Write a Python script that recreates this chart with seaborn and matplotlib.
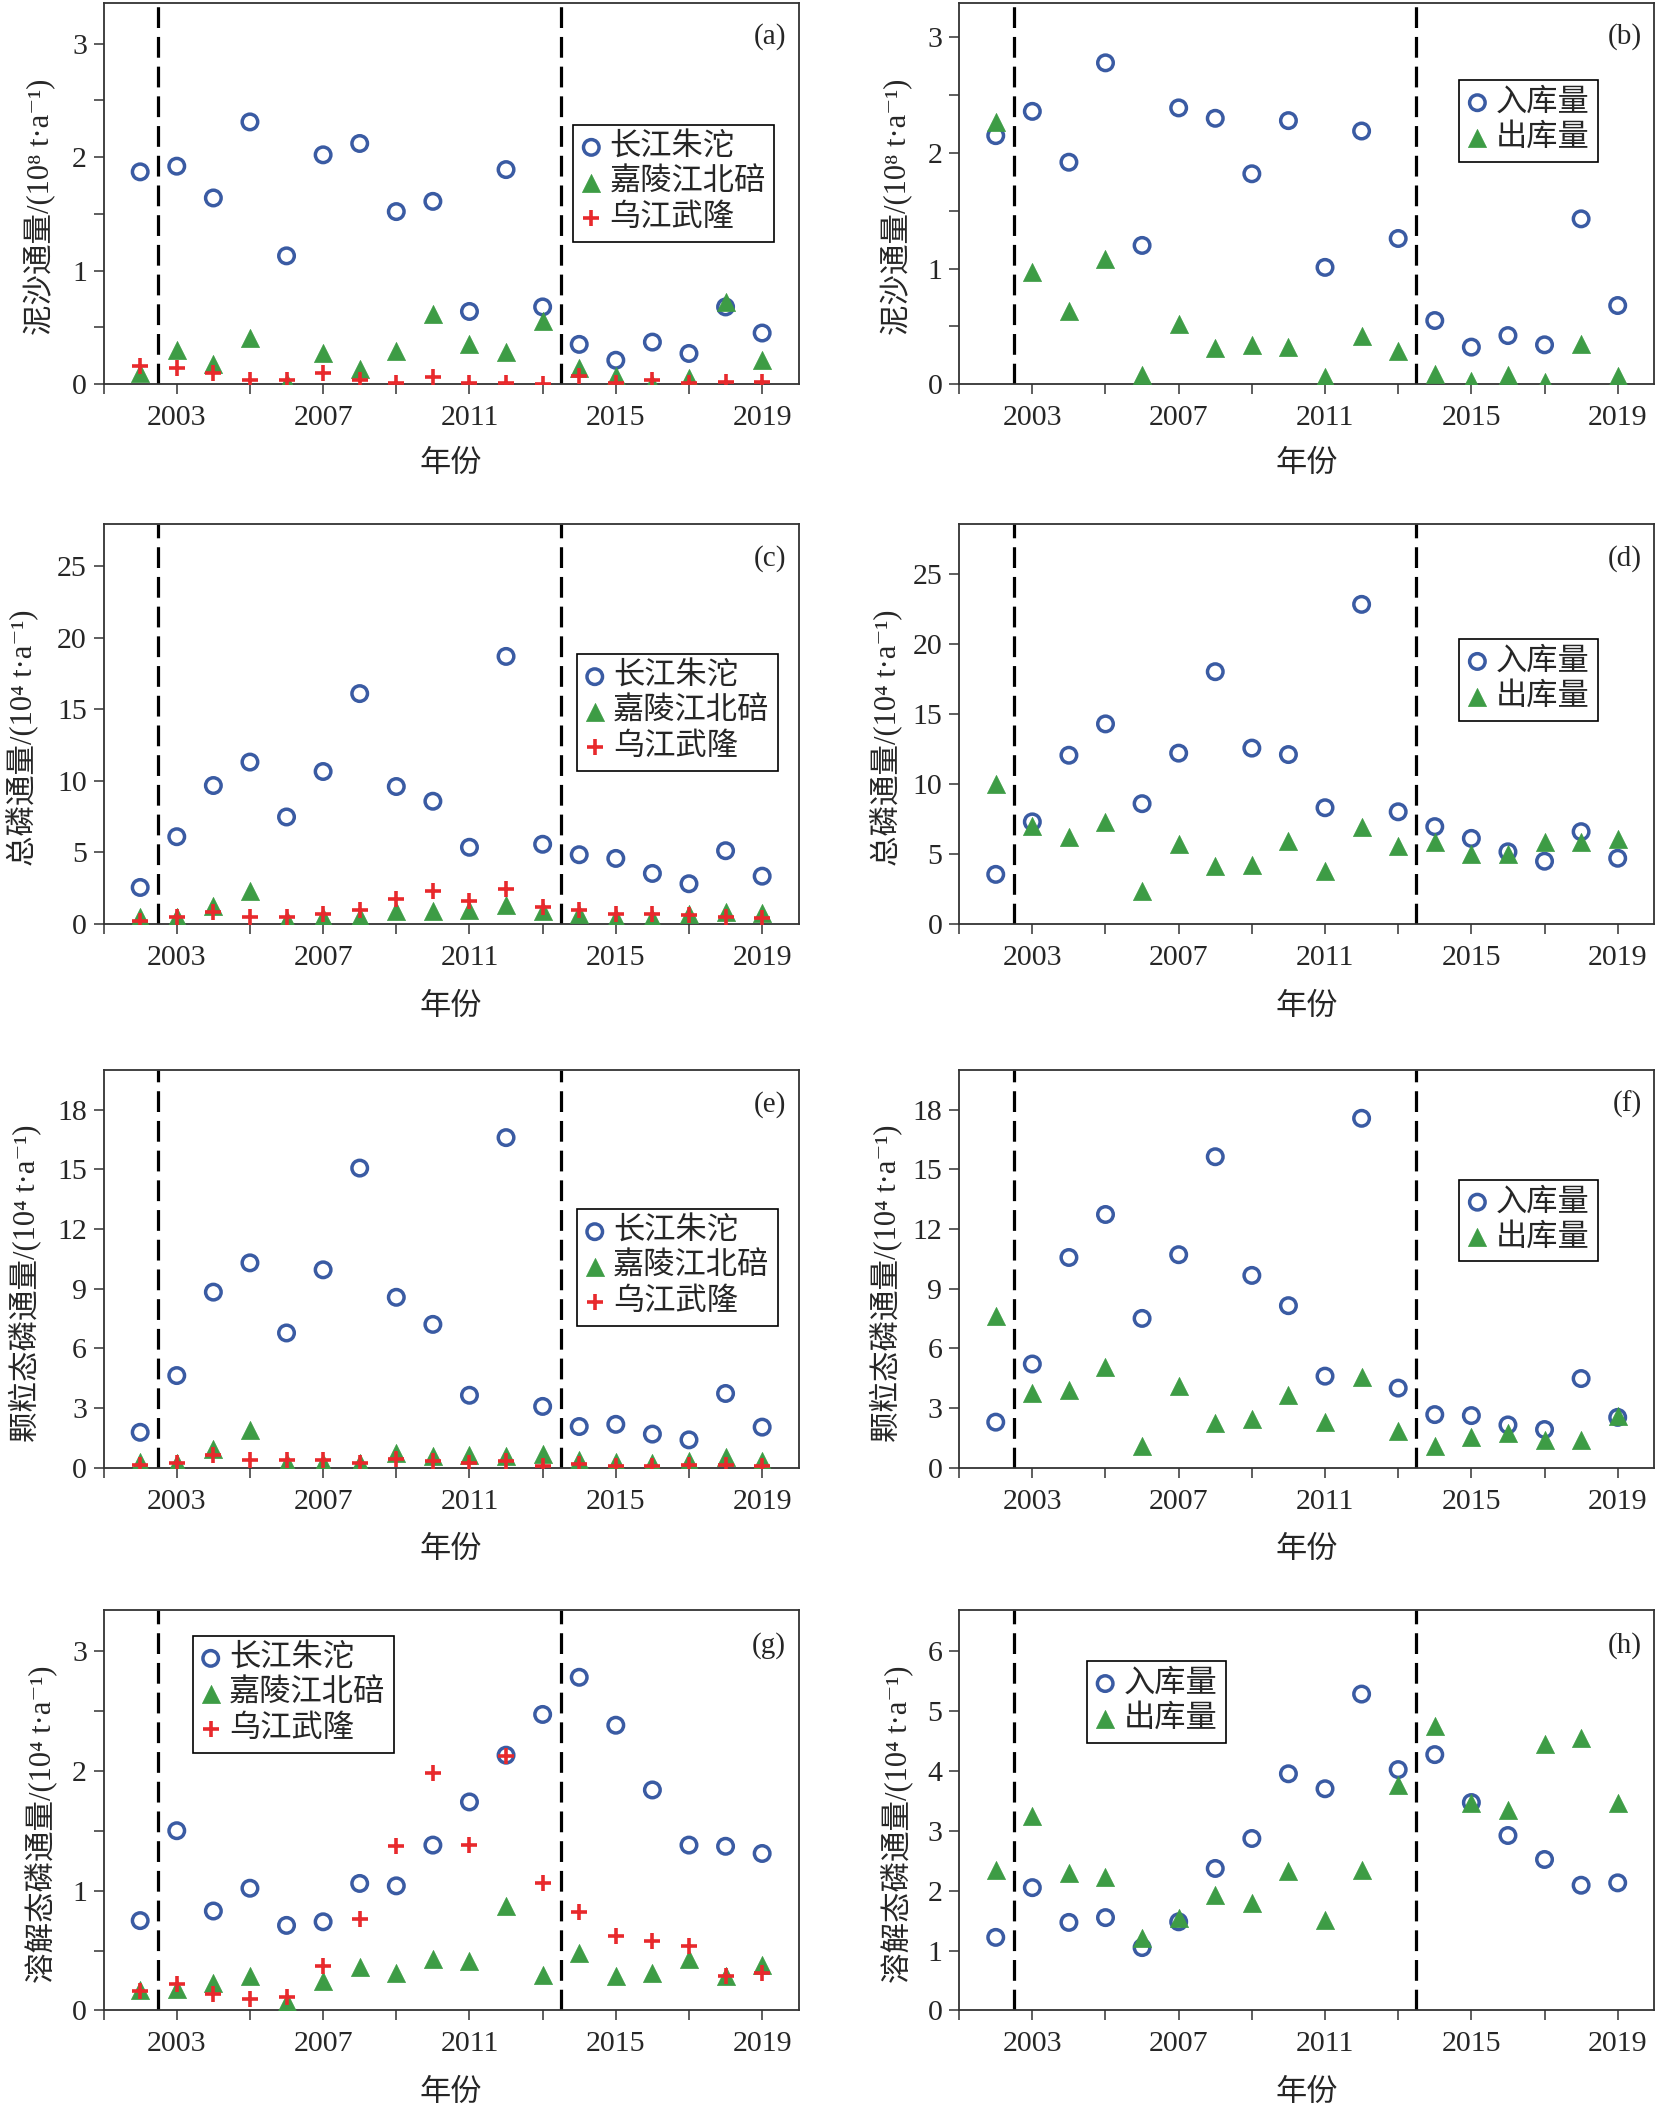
import seaborn as sns
import matplotlib.pyplot as plt

years = list(range(2002, 2020))

# (a) sediment flux, 10^8 t/a
sed_zhutuo = [1.87, 1.92, 1.64, 2.31, 1.13, 2.02, 2.12, 1.52, 1.61, 0.64, 1.89, 0.68, 0.35, 0.21, 0.37, 0.27, 0.68, 0.45]
sed_beibei = [0.10, 0.30, 0.18, 0.41, 0.01, 0.27, 0.13, 0.29, 0.62, 0.35, 0.28, 0.56, 0.14, 0.07, 0.00, 0.05, 0.72, 0.21]
sed_wulong = [0.16, 0.14, 0.10, 0.04, 0.04, 0.10, 0.04, 0.01, 0.06, 0.01, 0.01, 0.00, 0.07, 0.01, 0.04, 0.01, 0.02, 0.02]
# (b)
sed_in = [2.15, 2.36, 1.92, 2.78, 1.20, 2.39, 2.30, 1.82, 2.28, 1.01, 2.19, 1.26, 0.55, 0.32, 0.42, 0.34, 1.43, 0.68]
sed_out = [2.27, 0.97, 0.63, 1.08, 0.08, 0.52, 0.31, 0.34, 0.32, 0.06, 0.42, 0.29, 0.09, 0.03, 0.08, 0.02, 0.35, 0.07]
# (c) total phosphorus, 10^4 t/a
tp_zhutuo = [2.55, 6.10, 9.68, 11.32, 7.48, 10.66, 16.11, 9.61, 8.58, 5.36, 18.71, 5.57, 4.84, 4.58, 3.53, 2.81, 5.12, 3.34]
tp_beibei = [0.50, 0.50, 1.26, 2.27, 0.30, 0.45, 0.50, 0.90, 0.90, 1.00, 1.33, 0.90, 0.70, 0.40, 0.40, 0.70, 0.85, 0.75]
tp_wulong = [0.23, 0.47, 0.80, 0.47, 0.47, 0.70, 0.98, 1.73, 2.27, 1.61, 2.46, 1.17, 0.94, 0.68, 0.68, 0.63, 0.47, 0.40]
# (d)
tp_in = [3.54, 7.29, 12.05, 14.29, 8.59, 12.20, 18.02, 12.56, 12.10, 8.30, 22.83, 8.01, 6.95, 6.11, 5.15, 4.48, 6.59, 4.69]
tp_out = [9.99, 7.03, 6.18, 7.27, 2.33, 5.70, 4.14, 4.23, 5.94, 3.78, 6.91, 5.58, 5.82, 4.96, 5.03, 5.82, 5.82, 6.06]
# (e) particulate phosphorus
pp_zhutuo = [1.79, 4.64, 8.83, 10.30, 6.78, 9.95, 15.06, 8.57, 7.21, 3.65, 16.59, 3.09, 2.08, 2.19, 1.70, 1.41, 3.74, 2.05]
pp_beibei = [0.31, 0.23, 0.96, 1.91, 0.23, 0.23, 0.23, 0.75, 0.61, 0.66, 0.61, 0.71, 0.40, 0.31, 0.23, 0.35, 0.54, 0.35]
pp_wulong = [0.14, 0.26, 0.66, 0.40, 0.40, 0.40, 0.23, 0.43, 0.36, 0.26, 0.36, 0.09, 0.19, 0.09, 0.09, 0.14, 0.14, 0.09]
# (f)
pp_in = [2.30, 5.22, 10.57, 12.73, 7.51, 10.71, 15.63, 9.67, 8.15, 4.61, 17.56, 4.01, 2.68, 2.63, 2.16, 1.93, 4.49, 2.54]
pp_out = [7.65, 3.75, 3.89, 5.08, 1.12, 4.13, 2.25, 2.45, 3.66, 2.31, 4.59, 1.85, 1.09, 1.55, 1.78, 1.42, 1.38, 2.59]
# (g) dissolved phosphorus
dp_zhutuo = [0.75, 1.50, 0.83, 1.02, 0.71, 0.74, 1.06, 1.04, 1.38, 1.74, 2.13, 2.47, 2.78, 2.38, 1.84, 1.38, 1.37, 1.31]
dp_beibei = [0.17, 0.18, 0.23, 0.29, 0.07, 0.25, 0.36, 0.31, 0.43, 0.41, 0.87, 0.30, 0.48, 0.29, 0.31, 0.43, 0.29, 0.38]
dp_wulong = [0.16, 0.22, 0.14, 0.10, 0.11, 0.37, 0.76, 1.37, 1.98, 1.38, 2.12, 1.06, 0.82, 0.62, 0.58, 0.54, 0.29, 0.31]
# (h)
dp_in = [1.22, 2.05, 1.47, 1.55, 1.05, 1.48, 2.37, 2.87, 3.95, 3.70, 5.28, 4.02, 4.27, 3.47, 2.92, 2.52, 2.09, 2.13]
dp_out = [2.35, 3.25, 2.30, 2.22, 1.21, 1.54, 1.92, 1.80, 2.32, 1.51, 2.35, 3.76, 4.75, 3.47, 3.35, 4.45, 4.54, 3.46]

station_names = ['长江朱沱', '嘉陵江北碚', '乌江武隆']
reservoir_names = ['入库量', '出库量']
ylabels = ['泥沙通量/(10⁸ t·a⁻¹)', '总磷通量/(10⁴ t·a⁻¹)',
           '颗粒态磷通量/(10⁴ t·a⁻¹)', '溶解态磷通量/(10⁴ t·a⁻¹)']
xlabel = '年份'
period_breaks = [2002.5, 2013.5]

BLUE = '#3a5ba3'
GREEN = '#3d9c45'
RED = '#e8292c'

sns.set_style("ticks")
plt.rcParams['font.family'] = ['Liberation Serif', 'Noto Sans CJK SC', 'DejaVu Serif']
plt.rcParams['axes.unicode_minus'] = False

fig = plt.figure(figsize=(16.71, 21.07), dpi=100)

left_x, right_x, width = 0.062, 0.574, 0.416
rows = [(0.8177, 0.181), (0.5615, 0.190), (0.3033, 0.189), (0.0458, 0.190)]


def draw(ax, series, ylim, ystep, labstep, ylabel, tag, legloc, leganchor, ylab_x):
    styles = [('o', BLUE), ('^', GREEN), ('+', RED)]
    for (vals, name), (mk, col) in zip(series, styles):
        if mk == 'o':
            sns.scatterplot(x=years, y=vals, ax=ax, marker='o', s=125, color=BLUE,
                            facecolor='none', edgecolor=BLUE, linewidth=2.5,
                            label=name, zorder=3)
        elif mk == '^':
            sns.scatterplot(x=years, y=vals, ax=ax, marker='^', s=170, color=GREEN,
                            edgecolor=GREEN, linewidth=0.5, label=name, zorder=4)
        else:
            sns.scatterplot(x=years, y=vals, ax=ax, marker='+', s=130, color=RED,
                            linewidth=2.6, label=name, zorder=5)
    for xb in period_breaks:
        ax.axvline(xb, color='black', lw=2.3, ls=(0, (6.5, 2.8)), zorder=2)
    ax.set_xlim(2001, 2020)
    ax.set_ylim(0, ylim)
    xt = list(range(2001, 2020, 2))
    ax.set_xticks(xt)
    ax.set_xticklabels([str(y) if (y - 2003) % 4 == 0 else '' for y in xt])
    yt = [i * ystep for i in range(int(round(ylim / ystep - 0.49)) + 1)]
    ax.set_yticks(yt)
    ax.set_yticklabels([('%g' % v) if abs(v / labstep - round(v / labstep)) < 1e-6 else '' for v in yt])
    ax.tick_params(axis='both', direction='out', length=7, width=1.1, labelsize=21.5,
                   color='#333333', pad=5)
    ax.tick_params(axis='x', pad=8)
    for sp in ax.spines.values():
        sp.set_visible(True)
        sp.set_color('#333333')
        sp.set_linewidth(1.3)
    ax.set_xlabel(xlabel, fontsize=22.5)
    ax.xaxis.set_label_coords(0.5, -0.172)
    ax.set_ylabel(ylabel, fontsize=22)
    ax.yaxis.set_label_coords(ylab_x, 0.465)
    ax.yaxis.label.set_va('center')
    ax.text(0.982, 0.912, tag, transform=ax.transAxes, ha='right', va='center', fontsize=21)
    ax.legend(loc=legloc, bbox_to_anchor=leganchor, frameon=True, fancybox=False,
              edgecolor='black', framealpha=1, fontsize=22.5, borderaxespad=0,
              handlelength=0.6, handletextpad=0.28, labelspacing=0.2, borderpad=0.28)
    ax.get_legend().get_frame().set_linewidth(1.2)


panels = [
    ([(sed_zhutuo, station_names[0]), (sed_beibei, station_names[1]), (sed_wulong, station_names[2])],
     3.36, 0.5, 1, ylabels[0], '(a)', 'upper right', (0.965, 0.68), -0.091),
    ([(sed_in, reservoir_names[0]), (sed_out, reservoir_names[1])],
     3.3, 0.5, 1, ylabels[0], '(b)', 'upper right', (0.919, 0.797), -0.089),
    ([(tp_zhutuo, station_names[0]), (tp_beibei, station_names[1]), (tp_wulong, station_names[2])],
     28, 5, 5, ylabels[1], '(c)', 'upper right', (0.97, 0.674), -0.118),
    ([(tp_in, reservoir_names[0]), (tp_out, reservoir_names[1])],
     28.6, 5, 5, ylabels[1], '(d)', 'upper right', (0.919, 0.712), -0.105),
    ([(pp_zhutuo, station_names[0]), (pp_beibei, station_names[1]), (pp_wulong, station_names[2])],
     20, 3, 3, ylabels[2], '(e)', 'upper right', (0.97, 0.65), -0.114),
    ([(pp_in, reservoir_names[0]), (pp_out, reservoir_names[1])],
     20, 3, 3, ylabels[2], '(f)', 'upper right', (0.919, 0.724), -0.105),
    ([(dp_zhutuo, station_names[0]), (dp_beibei, station_names[1]), (dp_wulong, station_names[2])],
     3.34, 0.5, 1, ylabels[3], '(g)', 'upper left', (0.128, 0.936), -0.091),
    ([(dp_in, reservoir_names[0]), (dp_out, reservoir_names[1])],
     6.68, 1, 1, ylabels[3], '(h)', 'upper left', (0.184, 0.873), -0.089),
]

for i, p in enumerate(panels):
    bottom, height = rows[i // 2]
    lx = left_x if i % 2 == 0 else right_x
    ax = fig.add_axes([lx, bottom, width, height])
    draw(ax, *p)

fig.savefig('out.png', dpi=100)
